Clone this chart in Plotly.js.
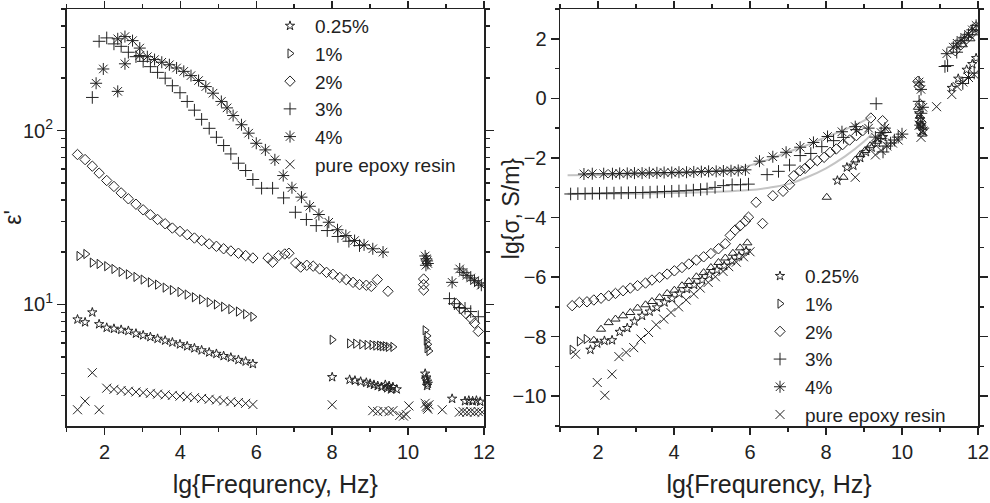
<!DOCTYPE html>
<html>
<head>
<meta charset="utf-8">
<script src="https://cdn.plot.ly/plotly-3.0.1.min.js"></script>
<style>html,body{margin:0;padding:0;background:#fff;}#chart{width:990px;height:503px;}</style>
</head>
<body>
<div id="chart"></div>
<script>
// ---------- Data: left panel, epsilon' (log scale) ----------
const seriesNames = ["0.25%", "1%", "2%", "3%", "4%", "pure epoxy resin"];

const eps025X = [1.29,1.49,1.68,1.86,2.06,2.25,2.44,2.63,2.83,3.02,3.21,3.40,3.60,3.79,3.99,4.18,4.37,4.56,4.76,4.95,5.14,5.33,5.53,5.72,5.91,
  8.0,8.46,8.6,8.75,8.9,9.0,9.1,9.2,9.3,9.4,9.45,9.5,9.55,9.6,9.7,
  10.45,10.48,10.5,10.52,10.5,10.47,
  11.16,11.5,11.6,11.7,11.8,11.9];
const eps025Y = [8.2,7.9,9.0,7.7,7.35,7.25,7.15,7.05,6.8,6.65,6.5,6.35,6.2,6.05,5.9,5.75,5.6,5.45,5.3,5.2,5.05,4.95,4.8,4.7,4.55,
  3.82,3.69,3.65,3.6,3.55,3.5,3.45,3.4,3.35,3.45,3.3,3.4,3.25,3.35,3.25,
  4.0,3.8,3.6,3.5,3.4,3.7,
  2.87,2.78,2.8,2.78,2.8,2.76];

const eps1X = [1.33,1.51,1.68,1.86,2.06,2.25,2.44,2.63,2.83,3.02,3.21,3.40,3.60,3.79,3.99,4.18,4.37,4.56,4.76,4.95,5.14,5.33,5.53,5.72,5.91,
  8.0,8.46,8.62,8.78,8.92,9.05,9.15,9.25,9.32,9.4,9.48,9.6,
  10.45,10.5,10.48,10.52,10.5,10.55];
const eps1Y = [19.0,19.5,17.4,17.1,16.6,16.0,15.4,14.9,14.4,13.9,13.4,13.0,12.5,12.1,11.8,11.4,11.0,10.7,10.3,10.0,9.7,9.4,9.1,8.8,8.5,
  6.27,5.97,5.95,5.9,5.85,5.85,5.8,5.8,5.75,5.75,5.7,5.7,
  7.1,6.6,6.2,5.9,5.6,5.4];

const eps2X = [1.29,1.49,1.68,1.86,2.06,2.25,2.44,2.63,2.83,3.02,3.21,3.40,3.60,3.79,3.99,4.18,4.37,4.56,4.76,4.95,5.14,5.33,5.53,5.72,5.91,
  6.31,6.43,6.59,6.75,6.86,7.04,7.17,7.33,7.50,7.67,7.85,8.02,8.2,8.37,8.55,8.72,8.9,9.03,9.19,9.47,
  10.41,10.41,10.41,
  11.27,11.4,11.53,11.66,11.75,11.85];
const eps2Y = [72.8,68.1,62.4,56.9,51.6,47.7,43.8,40.5,37.7,35.0,32.8,30.8,29.1,27.5,26.3,25.2,24.1,23.3,22.3,21.6,20.9,20.3,19.7,19.1,18.5,
  18.5,17.5,19.1,19.5,19.7,17.3,16.4,16.8,16.6,16.0,15.3,14.9,14.3,13.9,13.4,13.0,12.9,12.7,13.9,11.9,
  14.0,13.0,12.1,
  10.1,9.45,8.85,8.3,7.8,7.0];

const eps3X = [1.68,1.86,2.06,2.25,2.44,2.63,2.83,3.02,3.21,3.40,3.60,3.79,3.99,4.18,4.37,4.56,4.76,4.95,5.14,5.33,5.53,5.72,5.91,
  6.14,6.43,6.72,7.03,7.32,7.58,7.87,8.15,8.44,8.72,
  11.09,11.22,11.35,11.5,11.65,11.85];
const eps3Y = [155,326,341,315,305,282,266,250,233,216,200,181,165,147,131,116,103,91.5,82,73.4,64.9,58.9,52.3,
  46.6,46.6,41,33.9,30.8,28.4,26.6,24.6,23.1,21.8,
  10.8,10.1,9.6,9.5,9.1,8.5];

const eps4X = [1.78,1.97,2.35,2.35,2.54,2.54,2.74,2.93,2.93,3.13,3.32,3.51,3.71,3.90,4.09,4.28,4.48,4.67,4.86,5.08,5.23,5.39,5.61,5.80,
  6.00,6.24,6.49,6.71,6.94,7.19,7.41,7.65,7.91,8.14,8.36,8.59,8.84,9.07,9.34,
  10.45,10.48,10.5,10.52,10.47,
  11.16,11.36,11.45,11.55,11.65,11.75,11.85,11.93];
const eps4Y = [187,226,168,337,347,242,329,298,270,266,256,247,239,229,219,207,194,179,164,147,135,122,108,96.6,
  84.5,77.4,67.9,55.1,46.9,41.4,36.7,32.9,29.7,26.9,24.9,23.3,22.0,20.9,20.0,
  19.0,18.3,17.8,17.2,16.8,
  13.4,16.0,15.3,14.7,14.2,13.7,13.3,12.9];

const epsEX = [1.29,1.49,1.68,1.86,2.06,2.25,2.44,2.63,2.83,3.02,3.21,3.40,3.60,3.79,3.99,4.18,4.37,4.56,4.76,4.95,5.14,5.33,5.53,5.72,5.91,
  8.0,9.07,9.2,9.35,9.5,9.6,9.78,9.88,9.95,10.02,
  10.45,10.48,10.5,10.52,10.55,
  10.9,11.35,11.45,11.55,11.65,11.75,11.85,11.95];
const epsEY = [2.48,2.78,4.05,2.48,3.30,3.25,3.2,3.17,3.14,3.11,3.08,3.05,3.02,3.0,2.97,2.94,2.91,2.88,2.85,2.82,2.79,2.76,2.73,2.70,2.66,
  2.65,2.45,2.42,2.44,2.42,2.45,2.30,2.28,2.33,2.61,
  2.7,2.6,2.55,2.5,2.65,
  2.48,2.4,2.42,2.4,2.42,2.4,2.42,2.4];

// ---------- Data: right panel, lg(sigma) ----------
const sig025X = [1.80,1.98,2.17,2.37,2.57,2.77,2.96,3.16,3.36,3.55,3.75,3.95,4.14,4.34,4.53,4.74,4.93,5.13,5.32,5.52,5.71,5.90,
  8.30,8.55,8.72,8.9,9.05,9.2,9.35,9.5,
  10.45,10.5,10.55,10.48,
  11.31,11.48,11.70,11.85,11.95];
const sig025Y = [-8.44,-8.23,-8.14,-8.12,-7.84,-7.71,-7.49,-7.30,-7.16,-7.02,-6.85,-6.72,-6.55,-6.40,-6.26,-6.10,-5.92,-5.76,-5.62,-5.45,-5.30,-5.12,
  -2.76,-2.32,-2.26,-2.0,-1.8,-1.65,-1.5,-1.3,
  -0.5,-0.9,-1.1,-0.7,
  0.35,0.66,0.96,1.15,1.35];

const sig1X = [1.51,1.32,1.69,1.89,2.08,2.28,2.46,2.66,2.85,3.04,3.25,3.42,3.62,3.82,4.01,4.21,4.39,4.59,4.78,4.97,5.17,5.35,5.55,5.74,5.93,
  8.02,8.46,8.77,8.90,9.03,9.16,9.34,9.47,9.60,
  10.42,10.47,10.5,10.53,
  11.6,11.8,11.95];
const sig1Y = [-8.16,-8.44,-8.08,-8.12,-7.75,-7.53,-7.41,-7.30,-7.19,-7.04,-6.93,-6.82,-6.69,-6.55,-6.44,-6.29,-6.15,-5.99,-5.85,-5.68,-5.51,-5.36,-5.2,-5.02,-4.85,
  -3.32,-2.65,-2.07,-1.89,-1.75,-1.59,-1.44,-1.28,-1.08,
  -0.3,-0.6,-0.9,-1.2,
  1.8,2.0,2.2];

const sig2X = [1.32,1.51,1.71,1.89,2.08,2.28,2.46,2.66,2.85,3.04,3.25,3.42,3.62,3.82,4.01,4.21,4.39,4.59,4.78,4.97,5.17,5.35,5.48,5.61,5.74,5.88,5.96,
  6.16,6.33,6.60,6.87,7.04,7.15,7.32,7.45,7.58,7.77,7.95,8.11,8.27,8.44,8.62,8.80,8.97,9.18,9.49,
  10.42,10.45,10.48,10.5,
  11.4,11.55,11.7,11.85,11.95];
const sig2Y = [-6.96,-6.85,-6.83,-6.77,-6.71,-6.63,-6.55,-6.46,-6.37,-6.29,-6.20,-6.10,-6.01,-5.90,-5.79,-5.68,-5.56,-5.43,-5.32,-5.21,-5.05,-4.88,-4.6,-4.42,-4.28,-4.12,-3.99,
  -3.49,-4.2,-3.27,-3.12,-2.90,-2.60,-2.43,-2.35,-2.20,-2.09,-1.98,-1.81,-1.70,-1.55,-1.40,-1.25,-1.08,-0.66,-0.75,
  0.57,0.4,-0.2,-0.8,
  1.6,1.8,2.0,2.2,2.4];

const sig3X = [1.28,1.47,1.66,1.85,2.04,2.23,2.42,2.61,2.80,2.99,3.18,3.37,3.56,3.75,3.94,4.13,4.32,4.51,4.70,4.87,5.08,5.30,5.53,5.75,5.96,
  6.45,6.75,7.04,7.32,7.60,7.89,8.20,8.46,8.8,9.32,9.5,9.6,9.7,9.8,9.9,10.0,
  10.45,10.5,10.55,
  11.13,11.2,11.44,11.6,11.75,11.9];
const sig3Y = [-3.21,-3.20,-3.20,-3.19,-3.19,-3.18,-3.18,-3.17,-3.17,-3.16,-3.16,-3.15,-3.14,-3.13,-3.12,-3.11,-3.10,-3.08,-3.06,-3.04,-2.99,-2.93,-2.90,-2.90,-2.88,
  -2.56,-2.45,-2.24,-1.92,-1.85,-1.62,-1.42,-1.31,-1.05,-0.18,-1.8,-1.6,-1.5,-1.4,-1.3,-1.2,
  -0.1,-0.5,-1.0,
  1.07,1.1,1.55,0.5,0.7,0.85];

const sig4X = [1.63,1.85,2.15,2.38,2.57,2.77,2.96,3.16,3.35,3.55,3.74,3.94,4.13,4.33,4.52,4.72,4.91,5.11,5.30,5.50,5.69,5.88,
  6.25,6.60,6.95,7.32,7.67,8.04,8.42,8.77,9.12,9.3,9.45,9.55,
  10.45,10.5,10.55,10.48,
  11.18,11.35,11.45,11.55,11.65,11.75,11.85,11.95];
const sig4Y = [-2.54,-2.53,-2.53,-2.53,-2.52,-2.52,-2.51,-2.51,-2.50,-2.50,-2.49,-2.49,-2.48,-2.48,-2.47,-2.46,-2.45,-2.45,-2.44,-2.43,-2.42,-2.40,
  -2.11,-1.96,-1.81,-1.64,-1.48,-1.28,-1.12,-0.95,-1.0,-1.3,-1.15,-1.0,
  0.55,0.3,-0.3,-0.9,
  1.50,1.72,1.85,1.95,2.05,2.15,2.3,2.45];

const sigEX = [1.41,1.98,2.18,2.37,2.55,2.74,2.94,3.13,3.33,3.53,3.73,3.92,4.12,4.32,4.52,4.69,4.90,5.09,5.29,5.44,5.64,5.83,6.0,
  8.77,9.3,9.45,9.6,9.75,9.9,10.0,
  10.5,10.55,10.45,
  10.91,11.31,11.45,11.6,11.75,11.9];
const sigEY = [-8.59,-9.54,-9.97,-9.26,-8.67,-8.53,-8.37,-8.08,-7.86,-7.60,-7.41,-7.19,-7.00,-6.77,-6.57,-6.37,-6.18,-5.99,-5.81,-5.65,-5.5,-5.32,-5.15,
  -2.65,-1.9,-1.75,-1.6,-1.5,-1.4,-1.2,
  -1.31,-1.1,-0.9,
  -0.28,0.13,0.4,0.55,0.7,0.8];

// gray fit curves (right panel)
const fitUpperX = [1.2,3,4,5,5.5,6,6.5,7,7.5,8,8.5,9.0,9.2];
const fitUpperY = [-2.58,-2.56,-2.52,-2.45,-2.38,-2.25,-2.05,-1.8,-1.57,-1.3,-1.05,-0.75,-0.6];
const fitLowerX = [1.2,3,4,5,5.5,6,6.5,7,7.5,8,8.5,9.0,9.2];
const fitLowerY = [-3.2,-3.2,-3.18,-3.14,-3.12,-3.08,-3.0,-2.88,-2.65,-2.35,-1.95,-1.45,-1.2];

// tick labels
const epsTickVals = [10, 100];
const epsTickText = ["10<sup>1</sup>", "10<sup>2</sup>"];
const epsMinorVals = [3,4,5,6,7,8,9,20,30,40,50,60,70,80,90,200,300,400,500];

// ---------- styles ----------
const INK = "#222";
const symbolsL = ["star-open","triangle-right-open","diamond-open","cross-thin-open","asterisk-open","x-thin-open"];
const sizes = [7,8,8,9,10,9];

function mk(x, y, i, xa, ya, leg, sym) {
  return {
    type: "scatter", mode: "markers", x: x, y: y, name: seriesNames[i],
    xaxis: xa, yaxis: ya, legend: leg,
    marker: { symbol: sym || symbolsL[i], size: sizes[i], color: INK, line: { color: INK, width: 1 } },
    hoverinfo: "x+y"
  };
}

const sig1Sym = sig1X.map((v, k) => (k <= 2) ? "triangle-right-open" : "triangle-up-open");

const traces = [
  mk(eps025X, eps025Y, 0, "x", "y", "legend"),
  mk(eps1X, eps1Y, 1, "x", "y", "legend"),
  mk(eps2X, eps2Y, 2, "x", "y", "legend"),
  mk(eps3X, eps3Y, 3, "x", "y", "legend"),
  mk(eps4X, eps4Y, 4, "x", "y", "legend"),
  mk(epsEX, epsEY, 5, "x", "y", "legend"),
  { type: "scatter", mode: "lines", x: fitUpperX, y: fitUpperY, xaxis: "x2", yaxis: "y2", showlegend: false,
    line: { color: "#c4c4c4", width: 2, shape: "spline" }, hoverinfo: "skip" },
  { type: "scatter", mode: "lines", x: fitLowerX, y: fitLowerY, xaxis: "x2", yaxis: "y2", showlegend: false,
    line: { color: "#c4c4c4", width: 2, shape: "spline" }, hoverinfo: "skip" },
  mk(sig025X, sig025Y, 0, "x2", "y2", "legend2"),
  mk(sig1X, sig1Y, 1, "x2", "y2", "legend2", sig1Sym),
  mk(sig2X, sig2Y, 2, "x2", "y2", "legend2"),
  mk(sig3X, sig3Y, 3, "x2", "y2", "legend2"),
  mk(sig4X, sig4Y, 4, "x2", "y2", "legend2"),
  mk(sigEX, sigEY, 5, "x2", "y2", "legend2")
];

const FONT = "Liberation Sans, Arial, sans-serif";
const tickFont = { family: FONT, size: 20, color: INK };
const xTitleFont = { family: FONT, size: 25, color: INK };
const yTitleFont = { family: FONT, size: 23, color: INK };
const legFont = { family: FONT, size: 19, color: INK };

const xDomL = [66.5/990, 484/990];
const xDomR = [560/990, 978/990];

const baseX = {
  range: [1, 12], tickmode: "linear", tick0: 2, dtick: 2, ticks: "outside", ticklen: 7, tickwidth: 1.5,
  tickcolor: INK, showline: true, mirror: "ticks", linecolor: INK, linewidth: 1.5, showgrid: false, zeroline: false,
  tickfont: tickFont, minor: { dtick: 1, ticks: "outside", ticklen: 4, tickwidth: 1.5, tickcolor: INK, showgrid: false }
};

const layout = {
  width: 990, height: 503,
  margin: { l: 0, r: 0, t: 9, b: 77 },
  paper_bgcolor: "#fff", plot_bgcolor: "#fff",
  font: { family: FONT, color: INK },
  xaxis: Object.assign({}, baseX, { domain: xDomL, anchor: "y",
    title: { text: "lg{Frequrency, Hz}", font: xTitleFont, standoff: 14 } }),
  yaxis: {
    type: "log", domain: [0, 1], anchor: "x", range: [Math.log10(2), Math.log10(500)],
    tickmode: "array", tickvals: epsTickVals, ticktext: epsTickText,
    ticks: "outside", ticklen: 8, tickwidth: 1.5, tickcolor: INK, showline: true, mirror: "ticks", linecolor: INK, linewidth: 1.5,
    showgrid: false, zeroline: false, tickfont: tickFont,
    minor: { tickmode: "array", tickvals: epsMinorVals, ticks: "outside", ticklen: 4, tickwidth: 1.5, tickcolor: INK, showgrid: false },
    title: { text: "ε'", font: yTitleFont, standoff: 12 }
  },
  xaxis2: Object.assign({}, baseX, { domain: xDomR, anchor: "y2",
    title: { text: "lg{Frequrency, Hz}", font: xTitleFont, standoff: 14 } }),
  yaxis2: {
    domain: [0, 1], anchor: "x2", range: [-11, 3], tickmode: "linear", tick0: 0, dtick: 2,
    ticks: "outside", ticklen: 8, tickwidth: 1.5, tickcolor: INK, showline: true, mirror: "ticks", linecolor: INK, linewidth: 1.5,
    showgrid: false, zeroline: false, tickfont: tickFont,
    minor: { dtick: 1, ticks: "outside", ticklen: 4, tickwidth: 1.5, tickcolor: INK, showgrid: false }
  },
  annotations: [
    { text: "lg{σ, S/m}", xref: "paper", yref: "paper", x: 511/990, y: 0.52, xanchor: "center", yanchor: "middle",
      textangle: -90, showarrow: false, font: yTitleFont }
  ],
  legend: {
    x: 265/990, y: 1.005, xanchor: "left", yanchor: "top", bgcolor: "rgba(0,0,0,0)", borderwidth: 0,
    font: legFont, tracegroupgap: 0, itemwidth: 40
  },
  legend2: {
    x: 755/990, y: 0.405, xanchor: "left", yanchor: "top", bgcolor: "rgba(0,0,0,0)", borderwidth: 0,
    font: legFont, tracegroupgap: 0, itemwidth: 40
  },
  showlegend: true
};

Plotly.newPlot("chart", traces, layout, { displayModeBar: false, staticPlot: true });
</script>
</body>
</html>
